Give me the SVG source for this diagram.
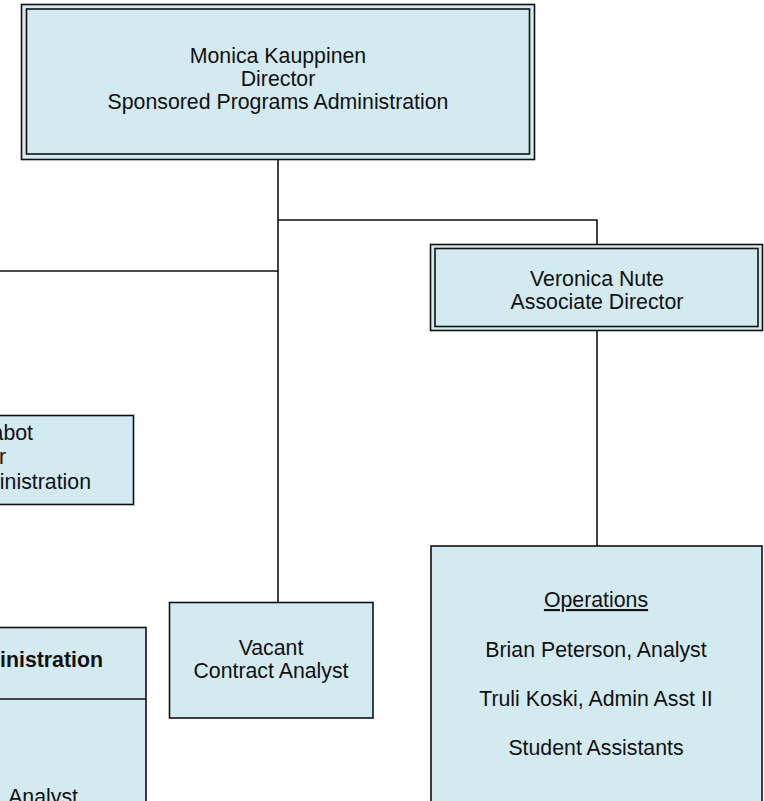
<svg xmlns="http://www.w3.org/2000/svg" width="764" height="801" viewBox="0 0 764 801">
<style>
.box{fill:#d2eaf0;stroke:#111;stroke-width:1.6}
.inner{fill:none;stroke:#111;stroke-width:1.6}
.conn{fill:none;stroke:#111;stroke-width:1.6}
text{font-family:"Liberation Sans",Arial,sans-serif;font-size:21.3px;fill:#111}
.c{text-anchor:middle}
.e{text-anchor:end}
.b{font-weight:bold}
</style>
<rect width="764" height="801" fill="#ffffff"/>
<g id="connectors">
<path class="conn" d="M278 160 V602"/>
<path class="conn" d="M278 220 H597 V244"/>
<path class="conn" d="M0 271 H278"/>
<path class="conn" d="M597 331 V546"/>
</g>
<g id="director">
<rect class="box" x="21.5" y="4.5" width="513" height="155"/>
<rect class="inner" x="26.5" y="9" width="503" height="145"/>
<text class="c" x="278" y="63">Monica Kauppinen</text>
<text class="c" x="278" y="86">Director</text>
<text class="c" x="278" y="109">Sponsored Programs Administration</text>
</g>
<g id="associate-director">
<rect class="box" x="430.5" y="244.5" width="332" height="86"/>
<rect class="inner" x="435" y="248.5" width="323" height="78"/>
<text class="c" x="597" y="286">Veronica Nute</text>
<text class="c" x="597" y="309">Associate Director</text>
</g>
<g id="left-director">
<rect class="box" x="-100" y="415.5" width="233.5" height="89"/>
<text class="e" x="33" y="440">abot</text>
<text class="e" x="6" y="464">r</text>
<text class="e" x="91" y="489">inistration</text>
</g>
<g id="left-administration">
<rect class="box" x="-100" y="627.5" width="246" height="200"/>
<path class="conn" d="M0 699 H146"/>
<text class="e b" x="103" y="667">inistration</text>
<text class="e" x="78" y="804">Analyst</text>
</g>
<g id="vacant">
<rect class="box" x="169.5" y="602.5" width="203.5" height="115.5"/>
<text class="c" x="271" y="655">Vacant</text>
<text class="c" x="271" y="678">Contract Analyst</text>
</g>
<g id="operations">
<rect class="box" x="431" y="546" width="331" height="280"/>
<text class="c" x="596" y="607" text-decoration="underline">Operations</text>
<text class="c" x="596" y="657">Brian Peterson, Analyst</text>
<text class="c" x="596" y="706">Truli Koski, Admin Asst II</text>
<text class="c" x="596" y="755">Student Assistants</text>
</g>
</svg>
